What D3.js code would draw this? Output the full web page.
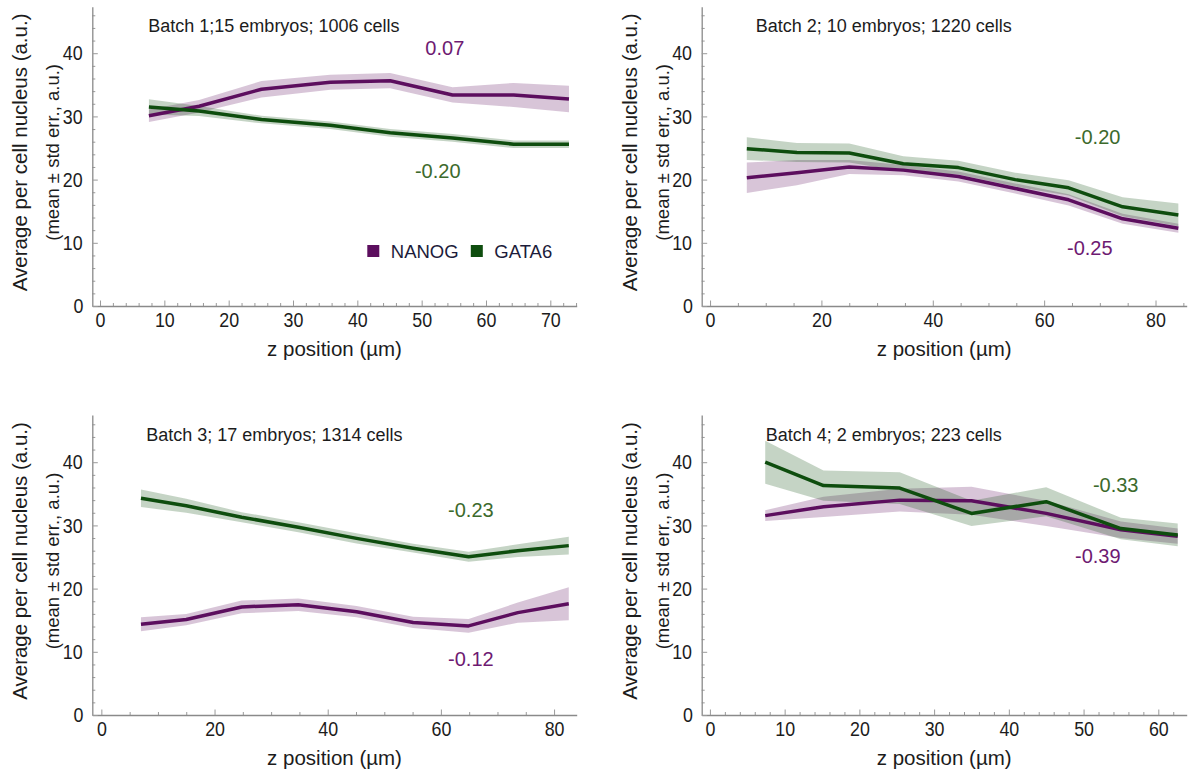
<!DOCTYPE html>
<html>
<head>
<meta charset="utf-8">
<script src="https://cdn.jsdelivr.net/npm/d3@7"></script>
<style>
  body { margin: 0; background: #fff; }
  svg text { font-family: "Liberation Sans", Arial, sans-serif; fill: #1c1c1c; }
  .tick text { transform-box: fill-box; transform-origin: center; transform: scaleX(0.85); }
</style>
</head>
<body>
<svg id="chart" width="1188" height="771"></svg>
<script>
// Values (mean and std err per z bin)
const batchLabels = [
  "Batch 1;15 embryos; 1006 cells",
  "Batch 2; 10 embryos; 1220 cells",
  "Batch 3; 17 embryos; 1314 cells",
  "Batch 4; 2 embryos; 223 cells"
];

const batch1Z = [7.6, 15.4, 25.1, 35.8, 45.1, 54.8, 64.3, 72.9];
const batch1Nanog = [30.1, 31.6, 34.3, 35.4, 35.65, 33.4, 33.4, 32.75];
const batch1NanogErr = [1.0, 1.0, 1.3, 1.2, 1.2, 1.2, 1.9, 2.1];
const batch1Gata6 = [31.5, 30.85, 29.5, 28.6, 27.4, 26.6, 25.6, 25.6];
const batch1Gata6Err = [1.2, 0.8, 0.6, 0.6, 0.6, 0.6, 0.6, 0.6];

const batch2Z = [6.6, 15.6, 25.0, 34.7, 44.6, 54.8, 64.4, 74.1, 84.1];
const batch2Nanog = [20.3, 21.1, 22.0, 21.5, 20.5, 18.6, 16.8, 13.8, 12.3];
const batch2NanogErr = [2.4, 2.0, 1.1, 0.8, 0.8, 0.8, 0.9, 0.8, 0.7];
const batch2Gata6 = [24.9, 24.3, 24.2, 22.5, 21.9, 20.0, 18.7, 15.7, 14.4];
const batch2Gata6Err = [1.8, 1.5, 1.5, 1.2, 1.1, 1.1, 1.2, 1.5, 1.8];

const batch3Z = [7.0, 15.0, 24.8, 34.8, 45.1, 55.1, 64.9, 73.6, 82.6];
const batch3Nanog = [14.35, 15.1, 17.1, 17.45, 16.35, 14.65, 14.1, 16.2, 17.6];
const batch3NanogErr = [1.1, 0.9, 1.0, 1.0, 0.9, 0.9, 1.1, 1.6, 2.6];
const batch3Gata6 = [34.3, 33.1, 31.3, 29.7, 27.95, 26.4, 25.05, 26.0, 26.8];
const batch3Gata6Err = [1.4, 1.1, 0.8, 0.8, 0.8, 0.7, 0.8, 1.0, 1.4];

const batch4Z = [7.4, 15.2, 25.4, 35.0, 45.0, 55.0, 62.6];
const batch4Nanog = [31.55, 32.95, 34.0, 33.9, 31.9, 29.3, 28.3];
const batch4NanogErr = [0.85, 1.6, 1.8, 2.2, 2.0, 1.3, 1.2];
const batch4Gata6 = [40.0, 36.3, 35.9, 31.9, 33.75, 29.5, 28.5];
const batch4Gata6Err = [3.4, 2.4, 2.5, 2.0, 2.3, 1.7, 1.8];

const corrNanog = ["0.07", "-0.25", "-0.12", "-0.39"];
const corrGata6 = ["-0.20", "-0.20", "-0.23", "-0.33"];
const seriesNames = ["NANOG", "GATA6"];

const colors = {
  nanog: "#5c0e5e", gata6: "#0e4d0e",
  nanogBand: "#5c0e5e", gata6Band: "#0e4d0e",
  nanogText: "#6e1a72", gata6Text: "#3c6a2c"
};

// Layout of the four panels (pixels + axis ranges)
const panels = [
  { z: batch1Z, nanog: batch1Nanog, nanogErr: batch1NanogErr, gata6: batch1Gata6, gata6Err: batch1Gata6Err,
    left: 92.3, right: 576.7, top: 6.7, bottom: 306, xDomain: [-1.2, 74.1], yMax: 47.36,
    xMajor: 10, xMinor: 2, labelDx: 56, nanogLab: [53.6, 39.7], gata6Lab: [52.5, 20.2], legend: true },
  { z: batch2Z, nanog: batch2Nanog, nanogErr: batch2NanogErr, gata6: batch2Gata6, gata6Err: batch2Gata6Err,
    left: 701.7, right: 1186.7, top: 6.7, bottom: 306, xDomain: [-1.5, 85.6], yMax: 47.36,
    xMajor: 20, xMinor: 5, labelDx: 54, nanogLab: [68.2, 8.07], gata6Lab: [69.6, 25.6] },
  { z: batch3Z, nanog: batch3Nanog, nanogErr: batch3NanogErr, gata6: batch3Gata6, gata6Err: batch3Gata6Err,
    left: 92.3, right: 576.7, top: 415, bottom: 715, xDomain: [-1.6, 84.0], yMax: 47.47,
    xMajor: 20, xMinor: 5, labelDx: 54, nanogLab: [65.3, 7.8], gata6Lab: [65.3, 31.4] },
  { z: batch4Z, nanog: batch4Nanog, nanogErr: batch4NanogErr, gata6: batch4Gata6, gata6Err: batch4Gata6Err,
    left: 701.7, right: 1186.7, top: 415, bottom: 715, xDomain: [-1.1, 63.8], yMax: 47.47,
    xMajor: 10, xMinor: 2, labelDx: 64, nanogLab: [51.9, 24.0], gata6Lab: [54.3, 35.3] }
];

const svg = d3.select("#chart");

panels.forEach((p, pi) => {
  const g = svg.append("g");

  const x = d3.scaleLinear().domain(p.xDomain).range([p.left, p.right]);
  const y = d3.scaleLinear().domain([0, p.yMax]).range([p.bottom, p.top]);

  // Bands
  const area = (mean, err) => d3.area()
    .x((d, i) => x(p.z[i]))
    .y0((d, i) => y(mean[i] - err[i]))
    .y1((d, i) => y(mean[i] + err[i]));
  const line = mean => d3.line()
    .x((d, i) => x(p.z[i]))
    .y((d, i) => y(mean[i]));

  g.append("path")
    .attr("d", area(p.nanog, p.nanogErr)(p.z))
    .attr("fill", colors.nanogBand)
    .attr("fill-opacity", 0.24);
  g.append("path")
    .attr("d", area(p.gata6, p.gata6Err)(p.z))
    .attr("fill", colors.gata6Band)
    .attr("fill-opacity", 0.24);

  g.append("path")
    .attr("d", line(p.nanog)(p.z))
    .attr("fill", "none")
    .attr("stroke", colors.nanog)
    .attr("stroke-width", 3.5)
    .attr("stroke-linejoin", "round");
  g.append("path")
    .attr("d", line(p.gata6)(p.z))
    .attr("fill", "none")
    .attr("stroke", colors.gata6)
    .attr("stroke-width", 3.5)
    .attr("stroke-linejoin", "round");

  // Axes (ticks point inward, Mathematica style)
  const xMajors = d3.range(0, p.xDomain[1] + 0.001, p.xMajor);
  const xMinors = d3.range(0, p.xDomain[1], p.xMinor).filter(v => v % p.xMajor !== 0);
  const yMajors = d3.range(0, p.yMax, 10);
  const yMinors = d3.range(0, p.yMax, 2).filter(v => v % 10 !== 0);

  const xMinorAxis = g.append("g")
    .attr("transform", `translate(0,${p.bottom})`)
    .call(d3.axisBottom(x).tickValues(xMinors).tickSizeInner(-3).tickSizeOuter(0).tickFormat(""));
  xMinorAxis.select(".domain").remove();

  const xAxis = g.append("g")
    .attr("transform", `translate(0,${p.bottom})`)
    .call(d3.axisBottom(x).tickValues(xMajors).tickSizeInner(-5.5).tickSizeOuter(0).tickPadding(6.5));

  const yMinorAxis = g.append("g")
    .attr("transform", `translate(${p.left},0)`)
    .call(d3.axisLeft(y).tickValues(yMinors).tickSizeInner(-3).tickSizeOuter(0).tickFormat(""));
  yMinorAxis.select(".domain").remove();

  const yAxis = g.append("g")
    .attr("transform", `translate(${p.left},0)`)
    .call(d3.axisLeft(y).tickValues(yMajors).tickSizeInner(-5.5).tickSizeOuter(0).tickPadding(8));

  [xAxis, yAxis, xMinorAxis, yMinorAxis].forEach(a => {
    a.select(".domain").attr("stroke", "#8a8a8a").attr("stroke-width", 1.3);
    a.selectAll(".tick line").attr("stroke", "#9a9a9a").attr("stroke-width", 1);
    a.selectAll(".tick text").attr("font-size", 21).attr("fill", "#1c1c1c")
      .attr("font-family", "'Liberation Sans', Arial, sans-serif");
  });

  // Axis titles
  g.append("text")
    .attr("x", (p.left + p.right) / 2)
    .attr("y", p.bottom + 50)
    .attr("text-anchor", "middle")
    .attr("font-size", 20.5)
    .text("z position (\u00b5m)");

  const cy = (p.top + p.bottom) / 2 - 4;
  g.append("text")
    .attr("transform", `translate(${p.left - 65},${cy}) rotate(-90)`)
    .attr("text-anchor", "middle")
    .attr("font-size", 20.5)
    .text("Average per cell nucleus (a.u.)");
  g.append("text")
    .attr("transform", `translate(${p.left - 33},${cy}) rotate(-90)`)
    .attr("text-anchor", "middle")
    .attr("font-size", 18.5)
    .text("(mean \u00b1 std err., a.u.)");

  // Batch label
  g.append("text")
    .attr("x", p.left + p.labelDx)
    .attr("y", p.top + 25.5)
    .attr("font-size", 18)
    .attr("fill", "#222")
    .text(batchLabels[pi]);

  // Correlation labels
  g.append("text")
    .attr("x", x(p.nanogLab[0]))
    .attr("y", y(p.nanogLab[1]))
    .attr("text-anchor", "middle")
    .attr("font-size", 20)
    .style("fill", colors.nanogText)
    .text(corrNanog[pi]);
  g.append("text")
    .attr("x", x(p.gata6Lab[0]))
    .attr("y", y(p.gata6Lab[1]))
    .attr("text-anchor", "middle")
    .attr("font-size", 20)
    .style("fill", colors.gata6Text)
    .text(corrGata6[pi]);

  // Legend (first panel only)
  if (p.legend) {
    const legend = g.append("g")
      .attr("transform", `translate(${p.left + 275},245)`);
    const items = legend.selectAll("g")
      .data(seriesNames)
      .enter()
      .append("g")
      .attr("transform", (d, i) => `translate(${i * 103.5},0)`);
    items.append("rect")
      .attr("width", 12)
      .attr("height", 12)
      .attr("fill", (d, i) => i === 0 ? colors.nanog : colors.gata6);
    items.append("text")
      .attr("x", 23.5)
      .attr("y", 12.5)
      .attr("font-size", 18.5)
      .style("fill", "#1c1c3a")
      .text(d => d);
  }
});
</script>
</body>
</html>
